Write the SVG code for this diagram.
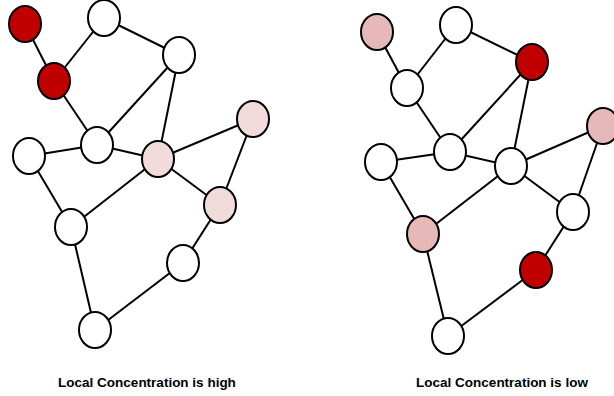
<svg xmlns="http://www.w3.org/2000/svg" width="614" height="396" viewBox="0 0 614 396">
<style>
.e line{stroke:#000;stroke-width:2}
.n ellipse{stroke:#000;stroke-width:2;fill:#fff}
.dark ellipse{fill:#C00000}
.lp ellipse{fill:#F2DCDB}
.mp ellipse{fill:#E6B9B8}
text{font-family:"Liberation Sans",Arial,sans-serif;font-weight:bold;font-size:13.5px;text-anchor:middle;fill:#000}
</style>
<rect width="614" height="396" fill="#fff"/>
<g id="connectors-left" class="e">
<line x1="25" y1="24" x2="54" y2="81"/>
<line x1="54" y1="81" x2="104" y2="18"/>
<line x1="104" y1="18" x2="179" y2="55"/>
<line x1="54" y1="81" x2="97" y2="145"/>
<line x1="179" y1="55" x2="97" y2="145"/>
<line x1="179" y1="55" x2="158" y2="159"/>
<line x1="29" y1="156" x2="97" y2="145"/>
<line x1="97" y1="145" x2="158" y2="159"/>
<line x1="158" y1="159" x2="253" y2="119"/>
<line x1="158" y1="159" x2="220" y2="205"/>
<line x1="253" y1="119" x2="220" y2="205"/>
<line x1="29" y1="156" x2="71" y2="227"/>
<line x1="158" y1="159" x2="71" y2="227"/>
<line x1="220" y1="205" x2="183" y2="263"/>
<line x1="71" y1="227" x2="95" y2="330"/>
<line x1="183" y1="263" x2="95" y2="330"/>
</g>
<g id="connectors-right" class="e">
<line x1="377" y1="32" x2="407" y2="88"/>
<line x1="407" y1="88" x2="456" y2="25"/>
<line x1="456" y1="25" x2="532" y2="62"/>
<line x1="407" y1="88" x2="450" y2="152"/>
<line x1="532" y1="62" x2="450" y2="152"/>
<line x1="532" y1="62" x2="511" y2="166"/>
<line x1="381" y1="162" x2="450" y2="152"/>
<line x1="450" y1="152" x2="511" y2="166"/>
<line x1="511" y1="166" x2="603" y2="126"/>
<line x1="511" y1="166" x2="573" y2="212"/>
<line x1="603" y1="126" x2="573" y2="212"/>
<line x1="381" y1="162" x2="423" y2="234"/>
<line x1="511" y1="166" x2="423" y2="234"/>
<line x1="573" y1="212" x2="536" y2="270"/>
<line x1="423" y1="234" x2="448" y2="336"/>
<line x1="536" y1="270" x2="448" y2="336"/>
</g>
<g id="L-A" class="n dark"><ellipse cx="25" cy="24" rx="16" ry="18"/></g>
<g id="L-B" class="n"><ellipse cx="104" cy="18" rx="16" ry="18"/></g>
<g id="L-C" class="n dark"><ellipse cx="54" cy="81" rx="16" ry="18"/></g>
<g id="L-D" class="n"><ellipse cx="179" cy="55" rx="16" ry="18"/></g>
<g id="L-E" class="n"><ellipse cx="29" cy="156" rx="16" ry="18"/></g>
<g id="L-F" class="n"><ellipse cx="97" cy="145" rx="16" ry="18"/></g>
<g id="L-G" class="n lp"><ellipse cx="158" cy="159" rx="16" ry="18"/></g>
<g id="L-H" class="n lp"><ellipse cx="253" cy="119" rx="16" ry="18"/></g>
<g id="L-I" class="n lp"><ellipse cx="220" cy="205" rx="16" ry="18"/></g>
<g id="L-J" class="n"><ellipse cx="71" cy="227" rx="16" ry="18"/></g>
<g id="L-K" class="n"><ellipse cx="183" cy="263" rx="16" ry="18"/></g>
<g id="L-L" class="n"><ellipse cx="95" cy="330" rx="16" ry="18"/></g>
<g id="R-A" class="n mp"><ellipse cx="377" cy="32" rx="16" ry="18"/></g>
<g id="R-B" class="n"><ellipse cx="456" cy="25" rx="16" ry="18"/></g>
<g id="R-C" class="n"><ellipse cx="407" cy="88" rx="16" ry="18"/></g>
<g id="R-D" class="n dark"><ellipse cx="532" cy="62" rx="16" ry="18"/></g>
<g id="R-E" class="n"><ellipse cx="381" cy="162" rx="16" ry="18"/></g>
<g id="R-F" class="n"><ellipse cx="450" cy="152" rx="16" ry="18"/></g>
<g id="R-G" class="n"><ellipse cx="511" cy="166" rx="16" ry="18"/></g>
<g id="R-H" class="n mp"><ellipse cx="603" cy="126" rx="16" ry="18"/></g>
<g id="R-I" class="n"><ellipse cx="573" cy="212" rx="16" ry="18"/></g>
<g id="R-J" class="n mp"><ellipse cx="423" cy="234" rx="16" ry="18"/></g>
<g id="R-K" class="n dark"><ellipse cx="536" cy="270" rx="16" ry="18"/></g>
<g id="R-L" class="n"><ellipse cx="448" cy="336" rx="16" ry="18"/></g>
<text x="147" y="387">Local Concentration is high</text>
<text x="502" y="387">Local Concentration is low</text>
</svg>
